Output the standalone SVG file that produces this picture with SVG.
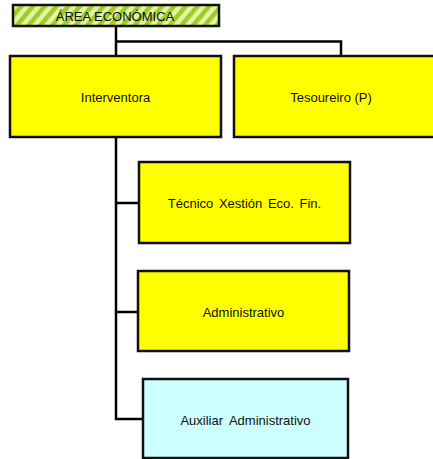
<svg xmlns="http://www.w3.org/2000/svg" width="433" height="459" viewBox="0 0 433 459">
  <style>
    .box { stroke: #111; stroke-width: 2.5; }
    .yellow { fill: #ffff00; }
    .cyan { fill: #ccffff; }
    .lbl { font-family: "Liberation Sans", Arial, sans-serif; font-size: 13px; fill: #111; text-anchor: middle; dominant-baseline: central; }
    .wire { fill: none; stroke: #000; stroke-width: 2.5; }
  </style>
  <defs>
    <pattern id="stripes" patternUnits="userSpaceOnUse" width="9" height="9" patternTransform="rotate(40)">
      <rect width="9" height="9" fill="#e6f2a8"/>
      <rect width="4.5" height="9" fill="#9fcc22"/>
    </pattern>
  </defs>

  <rect width="433" height="459" fill="#ffffff"/>

  <g id="connectors">
    <path class="wire" d="M116 26 V56"/>
    <path class="wire" d="M116 41.5 H341 V56"/>
    <path class="wire" d="M116 137 V419 H143"/>
    <path class="wire" d="M116 203 H139"/>
    <path class="wire" d="M116 312 H138"/>
  </g>

  <g id="area-economica">
    <rect class="box" x="13" y="5" width="206" height="21" fill="url(#stripes)"/>
    <text class="lbl" x="115" y="16">ÁREA ECONÓMICA</text>
  </g>

  <g id="interventora">
    <rect class="box yellow" x="10" y="56" width="211" height="81"/>
    <text class="lbl" x="115.5" y="97">Interventora</text>
  </g>

  <g id="tesoureiro">
    <rect class="box yellow" x="234" y="56" width="210" height="81"/>
    <text class="lbl" x="331" y="97">Tesoureiro (P)</text>
  </g>

  <g id="tecnico">
    <rect class="box yellow" x="139" y="162" width="211" height="81"/>
    <text class="lbl" x="244.5" y="203" word-spacing="2">Técnico Xestión Eco. Fin.</text>
  </g>

  <g id="administrativo">
    <rect class="box yellow" x="138" y="271" width="211" height="80"/>
    <text class="lbl" x="243.5" y="312">Administrativo</text>
  </g>

  <g id="auxiliar">
    <rect class="box cyan" x="143" y="379" width="205" height="79"/>
    <text class="lbl" x="245.5" y="420" word-spacing="3">Auxiliar Administrativo</text>
  </g>
</svg>
